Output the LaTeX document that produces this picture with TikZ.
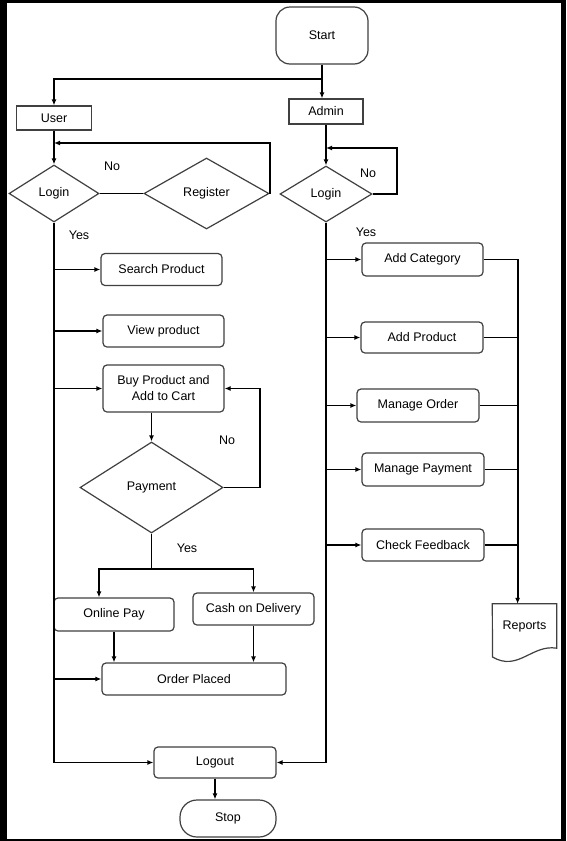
\documentclass[tikz,border=0pt]{standalone}
\usepackage{fontspec}
\setmainfont{Liberation Sans}
\usetikzlibrary{shapes.geometric,arrows.meta}

\tikzset{
  conn/.style={line width=1.8pt},
  arr/.style={conn,-{Latex[length=6pt,width=5pt]}},
  box/.style={draw=black!75,line width=1.2pt,minimum width=121,minimum height=32,inner sep=2pt},
  proc/.style={box,rounded corners=4pt},
  decision/.style={draw=black!75,line width=1.2pt,diamond,inner sep=0pt},
  term/.style={draw=black!75,line width=1.2pt,rounded corners=14pt},
  lbl/.style={inner sep=1pt}
}

\begin{document}
\begin{tikzpicture}[x=1pt,y=-1pt,font=\fontsize{12.5}{16}\selectfont]
  \useasboundingbox (0,0) rectangle (566,841);
  \fill[black] (0,0) rectangle (566,841);
  \fill[white] (7,3) rectangle (561,839);

  % start and the two roles
  \node[term,minimum width=92,minimum height=57] (start) at (322,35.5) {Start};
  \node[box,minimum width=75,minimum height=24] (user) at (54,118) {User};
  \node[box,minimum width=74,minimum height=25] (admin) at (326,111.5) {Admin};

  % user side
  \node[decision,minimum width=90,minimum height=57] (loginU) at (54,193.5) {Login};
  \node[decision,minimum width=125,minimum height=71] (register) at (206.5,193.5) {Register};
  \node[proc] (search) at (161.5,269.5) {Search Product};
  \node[proc] (view) at (163.5,331) {View product};
  \node[proc,minimum height=47,align=center] (buy) at (163.5,388.5) {Buy Product and\\Add to Cart};
  \node[decision,minimum width=143,minimum height=91] (payment) at (151.5,487.5) {Payment};
  \node[proc,minimum width=120,minimum height=33] (online) at (114,614.5) {Online Pay};
  \node[proc] (cod) at (253.5,609) {Cash on Delivery};
  \node[proc,minimum width=184] (order) at (194,679) {Order Placed};
  \node[proc,minimum width=122,minimum height=31] (logout) at (215,762.5) {Logout};
  \node[term,rounded corners=17pt,minimum width=96,minimum height=37] (stop) at (228,818.5) {Stop};

  % admin side
  \node[decision,minimum width=92,minimum height=56] (loginA) at (326,194) {Login};
  \node[proc,minimum height=33] (addcat) at (422.5,259.5) {Add Category};
  \node[proc,minimum width=122,minimum height=31] (addprod) at (422,337.5) {Add Product};
  \node[proc,minimum width=122,minimum height=33] (mgorder) at (418,405.5) {Manage Order};
  \node[proc,minimum width=122,minimum height=33] (mgpay) at (423,469.5) {Manage Payment};
  \node[proc,minimum width=122] (feedback) at (423,545) {Check Feedback};
  \node[minimum width=64,minimum height=44] (reports) at (524.5,626) {Reports};
  \draw[draw=black!75,line width=1.2pt] (reports.north west) -- (reports.north east) -- (reports.south east)
    .. controls (532,644) and (518,672) .. (492.5,657) -- cycle;

  % labels
  \node[lbl] (noU) at (112,166) {No};
  \node[lbl] (yesU) at (79,235) {Yes};
  \node[lbl] (noA) at (368,173) {No};
  \node[lbl] (yesA) at (366,232) {Yes};
  \node[lbl] (noP) at (227,440) {No};
  \node[lbl] (yesP) at (187,548) {Yes};

  \coordinate (uback) at (54,143);
  \coordinate (aback) at (326,148);

  % connectors
  \draw[conn] (start.south) -- ++(0,14) coordinate (split);
  \draw[arr] (split) -| (user.north);
  \draw[arr] (split) -- (split |- admin.north);
  \draw[arr] (user.south) -- (loginU.north);
  \draw[conn] (loginU.east) -- (register.west);
  \draw[arr] (register.east) |- (uback);
  \draw[arr] (loginU.south) |- (logout.west);
  \draw[arr] (loginU.south |- search.west) -- (search.west);
  \draw[arr] (loginU.south |- view.west) -- (view.west);
  \draw[arr] (loginU.south |- buy.west) -- (buy.west);
  \draw[arr] (loginU.south |- order.west) -- (order.west);
  \draw[arr] (payment.north |- buy.south) -- (payment.north);
  \draw[arr] (payment.east) -- ++(36,0) |- (buy.east);
  \draw[conn] (payment.south) -- ++(0,35) coordinate (pysplit);
  \draw[arr] (pysplit) -| ([xshift=-15pt]online.north);
  \draw[arr] (pysplit) -| (cod.north);
  \draw[arr] (online.south) -- (online.south |- order.north);
  \draw[arr] (cod.south) -- (cod.south |- order.north);
  \draw[arr] (logout.south) -- (logout.south |- stop.north);

  \draw[arr] (admin.south) -- (loginA.north);
  \draw[arr] (loginA.east) -- ++(24,0) |- (aback);
  \draw[arr] (loginA.south) |- (logout.east);
  \draw[arr] (loginA.south |- addcat.west) -- (addcat.west);
  \draw[arr] (loginA.south |- addprod.west) -- (addprod.west);
  \draw[arr] (loginA.south |- mgorder.west) -- (mgorder.west);
  \draw[arr] (loginA.south |- mgpay.west) -- (mgpay.west);
  \draw[arr] (loginA.south |- feedback.west) -- (feedback.west);
  \draw[arr] (addcat.east) -- ++(34,0) coordinate (coltop) -- (coltop |- reports.north);
  \draw[conn] (addprod.east) -- (addprod.east -| coltop);
  \draw[conn] (mgorder.east) -- (mgorder.east -| coltop);
  \draw[conn] (mgpay.east) -- (mgpay.east -| coltop);
  \draw[conn] (feedback.east) -- (feedback.east -| coltop);
\end{tikzpicture}
\end{document}
